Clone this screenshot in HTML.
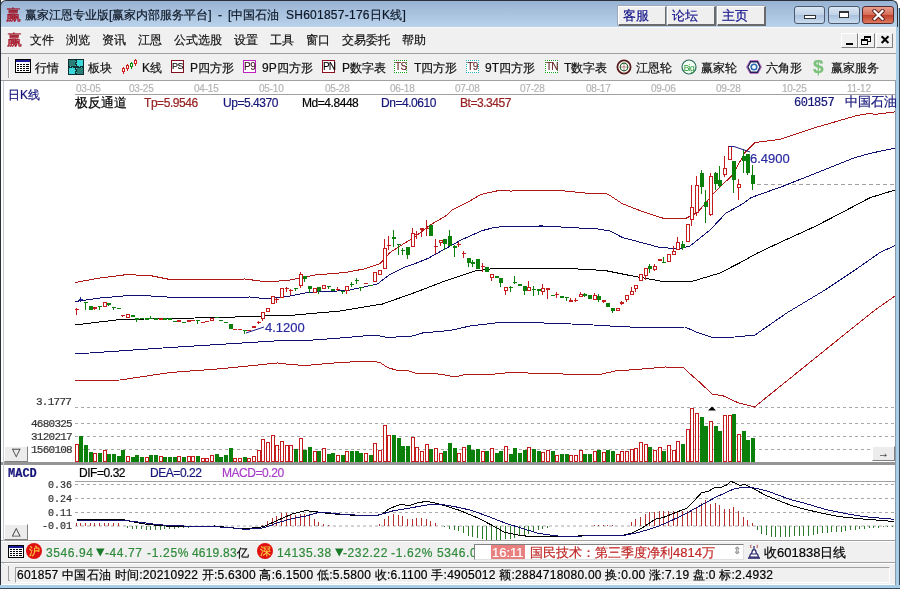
<!DOCTYPE html>
<html><head><meta charset="utf-8">
<style>
*{margin:0;padding:0;box-sizing:border-box}
html,body{width:900px;height:589px;overflow:hidden;background:#fff}
body{position:relative;will-change:transform;font-family:"Liberation Sans",sans-serif;font-size:12px;line-height:12px;color:#000}
.a{position:absolute;white-space:nowrap;-webkit-text-stroke:0.2px currentColor}
.m{font-family:"Liberation Mono",monospace}
#title{left:0;top:0;width:898px;height:27px;background:linear-gradient(#98b3d3,#bad2eb);border-top:1px solid #2b2f36;border-left:1px solid #2b2f36;border-right:1px solid #2b2f36;border-top-left-radius:6px;border-top-right-radius:6px}
#menu{left:1px;top:27px;width:895px;height:27px;background:#f0f0f0;border-top:1px solid #fafafa;border-bottom:1px solid #a0a0a0}
#tool{left:1px;top:54px;width:895px;height:27px;background:#f0f0f0;border-bottom:1px solid #a0a0a0}
.btn{height:20px;width:49px;top:6px;background:#efefef;border-top:1px solid #fff;border-left:1px solid #fff;border-right:2px solid #6a6a6a;border-bottom:2px solid #6a6a6a;box-shadow:-1px -1px 0 #9aa8b8;color:#14148a;font-size:13px;line-height:17px;padding-left:4px}
.cap{top:6px;height:18px;border:1px solid #4c5a6e;border-radius:3px;background:linear-gradient(#d9e6f3 0%,#c0d2e6 50%,#a9c0dc 51%,#c9dbef 100%)}
.mdi{top:33px;height:15px;width:17px;background:#f0f0f0;border-top:1px solid #fff;border-left:1px solid #fff;border-right:1px solid #808080;border-bottom:1px solid #808080}
.dt{font-size:10px;line-height:10px;color:#b4b4b4;top:84px;letter-spacing:-0.2px}
.ico{width:13px;height:13px;top:60px;font-size:10px;line-height:11px;text-align:center;font-family:"Liberation Sans",sans-serif;-webkit-text-stroke:0.1px currentColor}
</style></head><body>
<!-- window frame -->
<div class="a" style="left:0;top:0;width:1px;height:589px;background:#2b2f36"></div>
<div class="a" style="left:895px;top:8px;width:5px;height:581px;background:#a8cde6;border-left:1px solid #8a9aaa"></div>
<div class="a" style="left:899px;top:8px;width:1px;height:581px;background:#3a4a5a"></div>
<div class="a" style="left:0;top:585px;width:900px;height:4px;background:#a8cde6"></div>
<div class="a" style="left:0;top:588px;width:900px;height:1px;background:#3a4a5a"></div>

<div id="title" class="a"></div>
<div class="a" style="left:6px;top:8px;font-size:15px;line-height:15px;color:#c81830;font-family:'Liberation Serif',serif;-webkit-text-stroke:0.4px #901020">赢</div>
<div class="a" style="left:25px;top:9px;color:#0e1826">赢家江恩专业版[赢家内部服务平台]</div><div class="a" style="left:218px;top:9px;color:#0e1826">-</div><div class="a" style="left:228px;top:9px;color:#0e1826">[中国石油</div><div class="a" style="left:286px;top:9px;color:#0e1826;letter-spacing:0.25px">SH601857-176日K线]</div>
<div class="a btn" style="left:618px">客服</div>
<div class="a btn" style="left:667px">论坛</div>
<div class="a btn" style="left:717px">主页</div>
<div class="a cap" style="left:794px;width:31px"><div class="a" style="left:9px;top:8px;width:12px;height:4px;border:1px solid #333;background:#fff"></div></div>
<div class="a cap" style="left:828px;width:32px"><div class="a" style="left:10px;top:4px;width:10px;height:7px;border:1px solid #333;border-top-width:2px;background:#fff"></div></div>
<div class="a cap" style="left:862px;width:32px;border-color:#5a2a2a;background:linear-gradient(#e8a090 0%,#d46a55 50%,#c0402a 51%,#dc7a60 100%)"><svg class="a" style="left:9px;top:2px" width="13" height="12" viewBox="0 0 13 12"><path d="M2.5,2 L10.5,10 M10.5,2 L2.5,10" stroke="#5a2020" stroke-width="4" stroke-linecap="square"/><path d="M2.5,2 L10.5,10 M10.5,2 L2.5,10" stroke="#fff" stroke-width="2.2" stroke-linecap="square"/></svg></div>

<div id="menu" class="a"></div>
<div class="a" style="left:7px;top:33px;font-size:15px;line-height:15px;color:#c81830;font-family:'Liberation Serif',serif;-webkit-text-stroke:0.4px #901020">赢</div>
<div class="a" style="left:30px;top:34px;color:#111">文件</div>
<div class="a" style="left:66px;top:34px;color:#111">浏览</div>
<div class="a" style="left:102px;top:34px;color:#111">资讯</div>
<div class="a" style="left:138px;top:34px;color:#111">江恩</div>
<div class="a" style="left:174px;top:34px;color:#111">公式选股</div>
<div class="a" style="left:234px;top:34px;color:#111">设置</div>
<div class="a" style="left:270px;top:34px;color:#111">工具</div>
<div class="a" style="left:306px;top:34px;color:#111">窗口</div>
<div class="a" style="left:342px;top:34px;color:#111">交易委托</div>
<div class="a" style="left:402px;top:34px;color:#111">帮助</div>
<div class="a mdi" style="left:841px"><div class="a" style="left:4px;top:9px;width:7px;height:2px;background:#000"></div></div>
<div class="a mdi" style="left:858px"><div class="a" style="left:5px;top:2px;width:7px;height:6px;border:1px solid #000;border-top-width:2px"></div><div class="a" style="left:2px;top:5px;width:7px;height:6px;border:1px solid #000;border-top-width:2px;background:#f0f0f0"></div></div>
<div class="a mdi" style="left:876px"><div class="a" style="left:3px;top:0px;font-size:12px;line-height:13px;font-weight:bold">✕</div></div>

<div id="tool" class="a"></div>
<div class="a" style="left:8px;top:57px;width:2px;height:21px;border-left:1px solid #a0a0a0;border-right:1px solid #fff"></div>
<div class="a" style="left:35px;top:62px;color:#111">行情</div>
<div class="a" style="left:88px;top:62px;color:#111">板块</div>
<div class="a" style="left:142px;top:62px;color:#111">K线</div>
<div class="a" style="left:190px;top:62px;color:#111">P四方形</div>
<div class="a" style="left:262px;top:62px;color:#111">9P四方形</div>
<div class="a" style="left:342px;top:62px;color:#111">P数字表</div>
<div class="a" style="left:414px;top:62px;color:#111">T四方形</div>
<div class="a" style="left:485px;top:62px;color:#111">9T四方形</div>
<div class="a" style="left:564px;top:62px;color:#111">T数字表</div>
<div class="a" style="left:636px;top:62px;color:#111">江恩轮</div>
<div class="a" style="left:701px;top:62px;color:#111">赢家轮</div>
<div class="a" style="left:766px;top:62px;color:#111">六角形</div>
<div class="a" style="left:831px;top:62px;color:#111">赢家服务</div>

<!-- date axis -->
<div class="a" style="left:75px;top:94px;width:820px;height:1px;background:#a0a0a0"></div>
<div class="a" style="left:8px;top:89px;color:#14147a">日K线</div>

<svg class="a" style="left:0;top:0" width="900" height="589" viewBox="0 0 900 589">
<line x1="75" y1="407.5" x2="895" y2="407.5" stroke="#a8a8a8" stroke-dasharray="3,3"/>
<line x1="75" y1="423.5" x2="895" y2="423.5" stroke="#a8a8a8" stroke-dasharray="3,3"/>
<line x1="75" y1="436.5" x2="895" y2="436.5" stroke="#a8a8a8" stroke-dasharray="3,3"/>
<line x1="75" y1="449.5" x2="895" y2="449.5" stroke="#a8a8a8" stroke-dasharray="3,3"/>
<line x1="75" y1="484.5" x2="895" y2="484.5" stroke="#a8a8a8" stroke-dasharray="3,3"/>
<line x1="75" y1="498.5" x2="895" y2="498.5" stroke="#a8a8a8" stroke-dasharray="3,3"/>
<line x1="75" y1="512.5" x2="895" y2="512.5" stroke="#a8a8a8" stroke-dasharray="3,3"/>
<line x1="75" y1="526.0" x2="895" y2="526.0" stroke="#a8a8a8" stroke-dasharray="3,3"/>
<line x1="75" y1="481.5" x2="895" y2="481.5" stroke="#a0a0a0"/>
<line x1="757" y1="184.5" x2="895" y2="184.5" stroke="#a0a0a0" stroke-dasharray="4,3"/>
<g shape-rendering="crispEdges">
<polyline points="75.0,282.5 100.0,278.0 127.5,274.5 152.5,276.0 170.0,279.5 210.0,279.5 245.0,279.0 267.5,282.0 290.0,280.0 315.0,275.0 345.0,272.5 365.0,268.8 380.0,263.8 390.0,252.5 407.0,241.6 413.5,237.8 431.0,224.4 445.6,216.1 452.2,210.0 466.7,202.8 481.1,194.4 495.6,191.1 504.4,190.2 511.1,191.1 520.0,190.2 560.0,190.5 585.0,193.0 605.0,193.0 610.0,195.5 622.5,203.8 645.0,212.5 665.0,218.8 685.0,218.8 697.5,212.5 715.0,192.0 732.5,175.0 745.0,152.5 755.0,142.5 780.0,139.4 814.0,128.0 854.7,116.1 870.0,113.2 875.0,114.4 895.0,111.9" fill="none" stroke="#b01818" stroke-width="1"/>
<polyline points="75.0,301.5 100.0,298.0 135.0,295.0 182.5,298.0 250.0,297.0 267.5,299.0 290.0,296.0 307.5,292.5 347.5,290.5 377.5,284.0 389.0,275.0 405.0,267.0 412.0,264.8 428.0,258.4 444.0,249.5 461.1,240.0 482.2,230.6 495.6,227.2 515.6,226.1 542.5,226.0 597.5,229.0 610.0,231.0 622.5,237.5 660.0,247.5 680.0,248.8 690.0,246.0 710.0,230.0 725.8,213.3 744.0,203.0 750.7,197.8 757.8,195.1 775.6,188.9 780.0,187.4 814.0,173.9 854.7,157.7 871.7,153.0 895.0,148.2" fill="none" stroke="#101070" stroke-width="1"/>
<polyline points="75.0,325.0 120.0,319.5 220.0,317.5 295.0,315.0 340.0,311.0 382.5,304.0 415.0,292.5 445.0,281.0 475.0,271.0 490.0,269.0 515.0,268.0 560.0,268.0 605.0,270.5 627.5,275.0 660.0,281.0 690.0,282.0 720.0,273.0 740.0,262.7 757.8,252.9 784.4,240.4 814.7,226.6 839.6,213.8 869.8,197.8 895.0,190.0" fill="none" stroke="#000" stroke-width="1"/>
<polyline points="75.0,354.0 170.0,347.5 290.0,340.0 300.0,341.0 340.0,338.0 375.0,335.0 387.5,337.5 412.5,336.0 422.5,333.0 450.0,330.5 470.0,326.0 495.0,323.0 530.0,322.5 585.0,324.5 610.0,326.0 650.0,328.0 685.0,327.0 697.5,332.5 712.5,337.5 735.0,337.0 755.0,335.0 787.5,312.5 825.0,290.0 855.0,270.0 880.0,252.5 895.0,245.5" fill="none" stroke="#101070" stroke-width="1"/>
<polyline points="75.0,380.5 120.0,380.0 170.0,372.5 220.0,368.8 277.5,363.0 290.0,364.5 305.0,365.5 340.0,362.5 370.0,361.0 380.0,362.5 387.5,367.5 397.5,370.5 407.5,370.5 415.0,373.0 430.0,373.0 445.0,375.0 455.0,377.0 465.0,374.5 490.0,374.5 510.0,372.5 597.5,375.0 615.0,371.0 642.5,369.0 665.0,367.0 683.8,367.5 690.0,373.8 700.0,382.5 712.5,394.5 722.5,395.5 737.5,402.5 748.8,405.5 754.5,407.0 850.0,330.0 875.0,310.0 895.0,296.0" fill="none" stroke="#b01818" stroke-width="1"/>
</g>
<g shape-rendering="crispEdges">
<line x1="76.5" y1="308" x2="76.5" y2="315" stroke="#c41c1c"/>
<rect x="75" y="309" width="4" height="1" fill="#c41c1c"/>
<line x1="80.5" y1="297" x2="80.5" y2="302" stroke="#1e1e8a"/>
<rect x="79" y="299" width="4" height="1" fill="#1e1e8a"/>
<line x1="85.5" y1="302" x2="85.5" y2="310" stroke="#0a800a"/>
<rect x="84" y="302" width="4" height="1" fill="#0a800a"/>
<rect x="89" y="306" width="4" height="4" fill="#0a800a"/>
<line x1="94.5" y1="307" x2="94.5" y2="310" stroke="#c41c1c"/>
<rect x="93" y="307" width="4" height="2" fill="#c41c1c"/>
<line x1="99.5" y1="306" x2="99.5" y2="310" stroke="#0a800a"/>
<rect x="98" y="306" width="4" height="1" fill="#0a800a"/>
<rect x="103.5" y="302.5" width="3" height="4" fill="#fff" stroke="#c41c1c"/>
<line x1="108.5" y1="303" x2="108.5" y2="306" stroke="#0a800a"/>
<rect x="107" y="303" width="4" height="2" fill="#0a800a"/>
<line x1="113.5" y1="307" x2="113.5" y2="310" stroke="#0a800a"/>
<rect x="112" y="307" width="4" height="1" fill="#0a800a"/>
<rect x="117" y="308" width="4" height="1" fill="#0a800a"/>
<line x1="122.5" y1="315" x2="122.5" y2="317" stroke="#c41c1c"/>
<rect x="121" y="315" width="4" height="1" fill="#c41c1c"/>
<rect x="126.5" y="314.5" width="3" height="3" fill="#fff" stroke="#c41c1c"/>
<rect x="131" y="315" width="4" height="2" fill="#0a800a"/>
<line x1="136.5" y1="318" x2="136.5" y2="322" stroke="#0a800a"/>
<rect x="135" y="318" width="4" height="2" fill="#0a800a"/>
<rect x="140" y="318" width="4" height="1" fill="#0a800a"/>
<rect x="145" y="318" width="4" height="2" fill="#0a800a"/>
<line x1="150.5" y1="316" x2="150.5" y2="319" stroke="#0a800a"/>
<rect x="149" y="318" width="4" height="1" fill="#0a800a"/>
<rect x="154" y="318" width="4" height="2" fill="#0a800a"/>
<rect x="159" y="318" width="4" height="2" fill="#c41c1c"/>
<rect x="163" y="318" width="4" height="2" fill="#0a800a"/>
<rect x="168" y="318" width="4" height="2" fill="#0a800a"/>
<rect x="173" y="321" width="4" height="1" fill="#0a800a"/>
<rect x="177" y="320" width="4" height="2" fill="#c41c1c"/>
<rect x="182" y="322" width="4" height="1" fill="#0a800a"/>
<rect x="187" y="320" width="4" height="2" fill="#c41c1c"/>
<rect x="191" y="320" width="4" height="1" fill="#c41c1c"/>
<line x1="197.5" y1="320" x2="197.5" y2="324" stroke="#0a800a"/>
<rect x="196" y="320" width="4" height="1" fill="#0a800a"/>
<rect x="201" y="322" width="4" height="1" fill="#c41c1c"/>
<rect x="205" y="321" width="4" height="1" fill="#c41c1c"/>
<rect x="210.5" y="318.5" width="3" height="2" fill="#fff" stroke="#c41c1c"/>
<rect x="215" y="317" width="4" height="1" fill="#0a800a"/>
<rect x="219" y="320" width="4" height="1" fill="#0a800a"/>
<rect x="224" y="322" width="4" height="1" fill="#0a800a"/>
<rect x="229" y="324" width="4" height="5" fill="#0a800a"/>
<rect x="233" y="329" width="4" height="1" fill="#c41c1c"/>
<rect x="238" y="329" width="4" height="1" fill="#c41c1c"/>
<line x1="244.5" y1="330" x2="244.5" y2="334" stroke="#0a800a"/>
<rect x="243" y="330" width="4" height="1" fill="#0a800a"/>
<rect x="247" y="330" width="4" height="1" fill="#c41c1c"/>
<rect x="252" y="326" width="4" height="2" fill="#c41c1c"/>
<line x1="258.5" y1="321" x2="258.5" y2="324" stroke="#c41c1c"/>
<rect x="257" y="322" width="4" height="1" fill="#c41c1c"/>
<line x1="262.5" y1="312" x2="262.5" y2="321" stroke="#c41c1c"/>
<rect x="261.5" y="312.5" width="3" height="6" fill="#fff" stroke="#c41c1c"/>
<rect x="266.5" y="308.5" width="3" height="3" fill="#fff" stroke="#c41c1c"/>
<rect x="271.5" y="296.5" width="3" height="7" fill="#fff" stroke="#c41c1c"/>
<line x1="276.5" y1="298" x2="276.5" y2="303" stroke="#c41c1c"/>
<rect x="275" y="299" width="4" height="1" fill="#c41c1c"/>
<rect x="280.5" y="288.5" width="3" height="9" fill="#fff" stroke="#c41c1c"/>
<line x1="286.5" y1="287" x2="286.5" y2="292" stroke="#c41c1c"/>
<rect x="285" y="288" width="4" height="1" fill="#c41c1c"/>
<line x1="290.5" y1="289" x2="290.5" y2="295" stroke="#c41c1c"/>
<rect x="289" y="290" width="4" height="1" fill="#c41c1c"/>
<line x1="295.5" y1="288" x2="295.5" y2="291" stroke="#0a800a"/>
<rect x="294" y="288" width="4" height="1" fill="#0a800a"/>
<line x1="300.5" y1="272" x2="300.5" y2="288" stroke="#c41c1c"/>
<rect x="299.5" y="274.5" width="3" height="11" fill="#fff" stroke="#c41c1c"/>
<line x1="304.5" y1="276" x2="304.5" y2="282" stroke="#0a800a"/>
<rect x="303" y="276" width="4" height="3" fill="#0a800a"/>
<line x1="309.5" y1="286" x2="309.5" y2="293" stroke="#0a800a"/>
<rect x="308" y="286" width="4" height="3" fill="#0a800a"/>
<rect x="313.5" y="288.5" width="3" height="4" fill="#fff" stroke="#c41c1c"/>
<line x1="318.5" y1="287" x2="318.5" y2="294" stroke="#0a800a"/>
<rect x="317" y="287" width="4" height="4" fill="#0a800a"/>
<rect x="322.5" y="285.5" width="3" height="3" fill="#fff" stroke="#c41c1c"/>
<line x1="328.5" y1="286" x2="328.5" y2="289" stroke="#0a800a"/>
<rect x="327" y="286" width="4" height="1" fill="#0a800a"/>
<rect x="331" y="289" width="4" height="2" fill="#0a800a"/>
<line x1="337.5" y1="287" x2="337.5" y2="291" stroke="#c41c1c"/>
<rect x="336" y="289" width="4" height="1" fill="#c41c1c"/>
<line x1="342.5" y1="291" x2="342.5" y2="294" stroke="#0a800a"/>
<rect x="341" y="291" width="4" height="1" fill="#0a800a"/>
<line x1="346.5" y1="286" x2="346.5" y2="294" stroke="#c41c1c"/>
<rect x="345.5" y="286.5" width="3" height="4" fill="#fff" stroke="#c41c1c"/>
<line x1="351.5" y1="282" x2="351.5" y2="287" stroke="#0a800a"/>
<rect x="350" y="284" width="4" height="1" fill="#0a800a"/>
<line x1="356.5" y1="278" x2="356.5" y2="284" stroke="#0a800a"/>
<rect x="355" y="280" width="4" height="1" fill="#0a800a"/>
<line x1="360.5" y1="287" x2="360.5" y2="291" stroke="#0a800a"/>
<rect x="359" y="287" width="4" height="1" fill="#0a800a"/>
<rect x="364" y="283" width="4" height="1" fill="#c41c1c"/>
<rect x="369" y="285" width="4" height="1" fill="#0a800a"/>
<rect x="373.5" y="272.5" width="3" height="9" fill="#fff" stroke="#c41c1c"/>
<rect x="378.5" y="270.5" width="3" height="4" fill="#fff" stroke="#c41c1c"/>
<line x1="384.5" y1="239" x2="384.5" y2="269" stroke="#c41c1c"/>
<rect x="383.5" y="248.5" width="3" height="20" fill="#fff" stroke="#c41c1c"/>
<line x1="388.5" y1="236" x2="388.5" y2="250" stroke="#c41c1c"/>
<rect x="387" y="245" width="4" height="1" fill="#c41c1c"/>
<line x1="393.5" y1="230" x2="393.5" y2="247" stroke="#0a800a"/>
<rect x="392" y="237" width="4" height="2" fill="#0a800a"/>
<line x1="398.5" y1="244" x2="398.5" y2="255" stroke="#0a800a"/>
<rect x="397" y="244" width="4" height="1" fill="#0a800a"/>
<line x1="402.5" y1="248" x2="402.5" y2="255" stroke="#0a800a"/>
<rect x="401" y="250" width="4" height="1" fill="#0a800a"/>
<line x1="407.5" y1="247" x2="407.5" y2="259" stroke="#0a800a"/>
<rect x="406" y="247" width="4" height="8" fill="#0a800a"/>
<line x1="412.5" y1="228" x2="412.5" y2="247" stroke="#c41c1c"/>
<rect x="411.5" y="233.5" width="3" height="13" fill="#fff" stroke="#c41c1c"/>
<line x1="416.5" y1="231" x2="416.5" y2="239" stroke="#c41c1c"/>
<rect x="415" y="234" width="4" height="1" fill="#c41c1c"/>
<line x1="421.5" y1="229" x2="421.5" y2="237" stroke="#c41c1c"/>
<rect x="420" y="228" width="4" height="2" fill="#c41c1c"/>
<line x1="426.5" y1="220" x2="426.5" y2="236" stroke="#c41c1c"/>
<rect x="425" y="228" width="4" height="1" fill="#c41c1c"/>
<rect x="429" y="225" width="4" height="11" fill="#0a800a"/>
<line x1="435.5" y1="239" x2="435.5" y2="254" stroke="#c41c1c"/>
<rect x="434" y="246" width="4" height="1" fill="#c41c1c"/>
<line x1="440.5" y1="240" x2="440.5" y2="246" stroke="#c41c1c"/>
<rect x="439.5" y="240.5" width="3" height="2" fill="#fff" stroke="#c41c1c"/>
<line x1="444.5" y1="239" x2="444.5" y2="250" stroke="#0a800a"/>
<rect x="443" y="239" width="4" height="5" fill="#0a800a"/>
<line x1="449.5" y1="230" x2="449.5" y2="246" stroke="#0a800a"/>
<rect x="448" y="236" width="4" height="10" fill="#0a800a"/>
<line x1="454.5" y1="245" x2="454.5" y2="257" stroke="#0a800a"/>
<rect x="453" y="246" width="4" height="2" fill="#0a800a"/>
<line x1="458.5" y1="242" x2="458.5" y2="247" stroke="#c41c1c"/>
<rect x="457" y="244" width="4" height="1" fill="#c41c1c"/>
<line x1="463.5" y1="251" x2="463.5" y2="258" stroke="#c41c1c"/>
<rect x="462" y="253" width="4" height="1" fill="#c41c1c"/>
<line x1="468.5" y1="258" x2="468.5" y2="267" stroke="#0a800a"/>
<rect x="467" y="258" width="4" height="5" fill="#0a800a"/>
<line x1="472.5" y1="260" x2="472.5" y2="267" stroke="#0a800a"/>
<rect x="471" y="262" width="4" height="2" fill="#0a800a"/>
<rect x="476" y="259" width="4" height="10" fill="#0a800a"/>
<line x1="482.5" y1="263" x2="482.5" y2="272" stroke="#c41c1c"/>
<rect x="481" y="266" width="4" height="1" fill="#c41c1c"/>
<rect x="485" y="267" width="4" height="5" fill="#0a800a"/>
<line x1="491.5" y1="274" x2="491.5" y2="281" stroke="#c41c1c"/>
<rect x="490.5" y="274.5" width="3" height="3" fill="#fff" stroke="#c41c1c"/>
<rect x="495" y="276" width="4" height="2" fill="#0a800a"/>
<line x1="500.5" y1="278" x2="500.5" y2="287" stroke="#0a800a"/>
<rect x="499" y="278" width="4" height="5" fill="#0a800a"/>
<line x1="505.5" y1="287" x2="505.5" y2="295" stroke="#c41c1c"/>
<rect x="504.5" y="287.5" width="3" height="3" fill="#fff" stroke="#c41c1c"/>
<line x1="510.5" y1="286" x2="510.5" y2="292" stroke="#0a800a"/>
<rect x="509" y="287" width="4" height="1" fill="#0a800a"/>
<line x1="514.5" y1="276" x2="514.5" y2="284" stroke="#0a800a"/>
<rect x="513" y="282" width="4" height="1" fill="#0a800a"/>
<rect x="518" y="284" width="4" height="2" fill="#0a800a"/>
<line x1="524.5" y1="286" x2="524.5" y2="295" stroke="#0a800a"/>
<rect x="523" y="286" width="4" height="5" fill="#0a800a"/>
<line x1="528.5" y1="281" x2="528.5" y2="291" stroke="#c41c1c"/>
<rect x="527.5" y="287.5" width="3" height="3" fill="#fff" stroke="#c41c1c"/>
<line x1="533.5" y1="286" x2="533.5" y2="296" stroke="#0a800a"/>
<rect x="532" y="289" width="4" height="1" fill="#0a800a"/>
<line x1="538.5" y1="289" x2="538.5" y2="295" stroke="#0a800a"/>
<rect x="537" y="289" width="4" height="2" fill="#0a800a"/>
<line x1="542.5" y1="284" x2="542.5" y2="295" stroke="#c41c1c"/>
<rect x="541.5" y="288.5" width="3" height="3" fill="#fff" stroke="#c41c1c"/>
<line x1="547.5" y1="288" x2="547.5" y2="299" stroke="#c41c1c"/>
<rect x="546" y="288" width="4" height="2" fill="#c41c1c"/>
<rect x="551" y="295" width="4" height="1" fill="#0a800a"/>
<line x1="556.5" y1="292" x2="556.5" y2="298" stroke="#c41c1c"/>
<rect x="555" y="294" width="4" height="1" fill="#c41c1c"/>
<rect x="560" y="296" width="4" height="2" fill="#0a800a"/>
<line x1="566.5" y1="297" x2="566.5" y2="301" stroke="#0a800a"/>
<rect x="565" y="297" width="4" height="1" fill="#0a800a"/>
<line x1="570.5" y1="298" x2="570.5" y2="302" stroke="#c41c1c"/>
<rect x="569" y="300" width="4" height="2" fill="#c41c1c"/>
<line x1="575.5" y1="298" x2="575.5" y2="302" stroke="#c41c1c"/>
<rect x="574" y="300" width="4" height="1" fill="#c41c1c"/>
<line x1="580.5" y1="292" x2="580.5" y2="297" stroke="#c41c1c"/>
<rect x="579.5" y="294.5" width="3" height="2" fill="#fff" stroke="#c41c1c"/>
<line x1="584.5" y1="293" x2="584.5" y2="297" stroke="#0a800a"/>
<rect x="583" y="294" width="4" height="2" fill="#0a800a"/>
<rect x="588" y="295" width="4" height="4" fill="#0a800a"/>
<line x1="594.5" y1="293" x2="594.5" y2="300" stroke="#c41c1c"/>
<rect x="593.5" y="295.5" width="3" height="4" fill="#fff" stroke="#c41c1c"/>
<line x1="598.5" y1="294" x2="598.5" y2="302" stroke="#0a800a"/>
<rect x="597" y="296" width="4" height="4" fill="#0a800a"/>
<line x1="603.5" y1="300" x2="603.5" y2="303" stroke="#c41c1c"/>
<rect x="602" y="300" width="4" height="2" fill="#c41c1c"/>
<rect x="606" y="303" width="4" height="4" fill="#0a800a"/>
<line x1="612.5" y1="308" x2="612.5" y2="313" stroke="#0a800a"/>
<rect x="611" y="308" width="4" height="3" fill="#0a800a"/>
<rect x="616.5" y="308.5" width="3" height="2" fill="#fff" stroke="#c41c1c"/>
<line x1="621.5" y1="301" x2="621.5" y2="305" stroke="#c41c1c"/>
<rect x="620" y="302" width="4" height="2" fill="#c41c1c"/>
<line x1="626.5" y1="295" x2="626.5" y2="302" stroke="#c41c1c"/>
<rect x="625.5" y="295.5" width="3" height="4" fill="#fff" stroke="#c41c1c"/>
<line x1="631.5" y1="287" x2="631.5" y2="295" stroke="#c41c1c"/>
<rect x="630.5" y="291.5" width="3" height="3" fill="#fff" stroke="#c41c1c"/>
<line x1="635.5" y1="285" x2="635.5" y2="292" stroke="#c41c1c"/>
<rect x="634.5" y="285.5" width="3" height="3" fill="#fff" stroke="#c41c1c"/>
<rect x="639.5" y="274.5" width="3" height="6" fill="#fff" stroke="#c41c1c"/>
<line x1="645.5" y1="268" x2="645.5" y2="280" stroke="#c41c1c"/>
<rect x="644.5" y="268.5" width="3" height="7" fill="#fff" stroke="#c41c1c"/>
<line x1="649.5" y1="264" x2="649.5" y2="273" stroke="#0a800a"/>
<rect x="648" y="266" width="4" height="3" fill="#0a800a"/>
<line x1="654.5" y1="264" x2="654.5" y2="271" stroke="#c41c1c"/>
<rect x="653.5" y="266.5" width="3" height="3" fill="#fff" stroke="#c41c1c"/>
<rect x="658.5" y="259.5" width="3" height="1" fill="#fff" stroke="#c41c1c"/>
<line x1="663.5" y1="257" x2="663.5" y2="263" stroke="#0a800a"/>
<rect x="662" y="262" width="4" height="1" fill="#0a800a"/>
<rect x="667.5" y="254.5" width="3" height="7" fill="#fff" stroke="#c41c1c"/>
<line x1="673.5" y1="246" x2="673.5" y2="255" stroke="#c41c1c"/>
<rect x="672.5" y="251.5" width="3" height="3" fill="#fff" stroke="#c41c1c"/>
<line x1="677.5" y1="237" x2="677.5" y2="250" stroke="#c41c1c"/>
<rect x="676.5" y="242.5" width="3" height="7" fill="#fff" stroke="#c41c1c"/>
<line x1="682.5" y1="241" x2="682.5" y2="250" stroke="#0a800a"/>
<rect x="681" y="244" width="4" height="4" fill="#0a800a"/>
<rect x="686.5" y="224.5" width="3" height="17" fill="#fff" stroke="#c41c1c"/>
<line x1="691.5" y1="185" x2="691.5" y2="226" stroke="#c41c1c"/>
<rect x="690.5" y="207.5" width="3" height="12" fill="#fff" stroke="#c41c1c"/>
<line x1="696.5" y1="176" x2="696.5" y2="216" stroke="#c41c1c"/>
<rect x="695.5" y="185.5" width="3" height="27" fill="#fff" stroke="#c41c1c"/>
<line x1="701.5" y1="170" x2="701.5" y2="194" stroke="#0a800a"/>
<rect x="700" y="173" width="4" height="14" fill="#0a800a"/>
<line x1="705.5" y1="190" x2="705.5" y2="223" stroke="#0a800a"/>
<rect x="704" y="202" width="4" height="5" fill="#0a800a"/>
<line x1="710.5" y1="173" x2="710.5" y2="216" stroke="#c41c1c"/>
<rect x="709.5" y="176.5" width="3" height="38" fill="#fff" stroke="#c41c1c"/>
<line x1="715.5" y1="172" x2="715.5" y2="190" stroke="#0a800a"/>
<rect x="714" y="173" width="4" height="11" fill="#0a800a"/>
<line x1="719.5" y1="166" x2="719.5" y2="188" stroke="#0a800a"/>
<rect x="718" y="180" width="4" height="6" fill="#0a800a"/>
<line x1="724.5" y1="156" x2="724.5" y2="177" stroke="#c41c1c"/>
<rect x="723.5" y="168.5" width="3" height="6" fill="#fff" stroke="#c41c1c"/>
<rect x="728.5" y="146.5" width="3" height="13" fill="#fff" stroke="#c41c1c"/>
<line x1="733.5" y1="161" x2="733.5" y2="193" stroke="#0a800a"/>
<rect x="732" y="161" width="4" height="19" fill="#0a800a"/>
<line x1="738.5" y1="179" x2="738.5" y2="200" stroke="#c41c1c"/>
<rect x="737.5" y="184.5" width="3" height="3" fill="#fff" stroke="#c41c1c"/>
<line x1="743.5" y1="149" x2="743.5" y2="173" stroke="#0a800a"/>
<rect x="742" y="156" width="4" height="5" fill="#0a800a"/>
<line x1="747.5" y1="154" x2="747.5" y2="175" stroke="#0a800a"/>
<rect x="746" y="154" width="4" height="19" fill="#0a800a"/>
<line x1="752.5" y1="165" x2="752.5" y2="190" stroke="#0a800a"/>
<rect x="751" y="175" width="4" height="9" fill="#0a800a"/>
<rect x="75.5" y="444.5" width="3" height="17" fill="#fff" stroke="#c41c1c"/>
<rect x="79" y="436" width="4" height="26" fill="#0a800a"/>
<rect x="84" y="445" width="4" height="17" fill="#0a800a"/>
<rect x="89" y="452" width="4" height="10" fill="#0a800a"/>
<rect x="93.5" y="453.5" width="3" height="8" fill="#fff" stroke="#c41c1c"/>
<rect x="98" y="453" width="4" height="9" fill="#0a800a"/>
<rect x="103.5" y="450.5" width="3" height="11" fill="#fff" stroke="#c41c1c"/>
<rect x="107" y="454" width="4" height="8" fill="#0a800a"/>
<rect x="112" y="454" width="4" height="8" fill="#0a800a"/>
<rect x="117" y="456" width="4" height="6" fill="#0a800a"/>
<rect x="121" y="450" width="4" height="12" fill="#0a800a"/>
<rect x="126.5" y="456.5" width="3" height="5" fill="#fff" stroke="#c41c1c"/>
<rect x="131" y="457" width="4" height="5" fill="#0a800a"/>
<rect x="135" y="455" width="4" height="7" fill="#0a800a"/>
<rect x="140" y="457" width="4" height="5" fill="#0a800a"/>
<rect x="145.5" y="457.5" width="3" height="4" fill="#fff" stroke="#c41c1c"/>
<rect x="149" y="455" width="4" height="7" fill="#0a800a"/>
<rect x="154" y="455" width="4" height="7" fill="#0a800a"/>
<rect x="159.5" y="456.5" width="3" height="5" fill="#fff" stroke="#c41c1c"/>
<rect x="163" y="457" width="4" height="5" fill="#0a800a"/>
<rect x="168" y="457" width="4" height="5" fill="#0a800a"/>
<rect x="173" y="457" width="4" height="5" fill="#0a800a"/>
<rect x="177.5" y="456.5" width="3" height="5" fill="#fff" stroke="#c41c1c"/>
<rect x="182" y="457" width="4" height="5" fill="#0a800a"/>
<rect x="187.5" y="456.5" width="3" height="5" fill="#fff" stroke="#c41c1c"/>
<rect x="191.5" y="456.5" width="3" height="5" fill="#fff" stroke="#c41c1c"/>
<rect x="196" y="456" width="4" height="6" fill="#0a800a"/>
<rect x="201.5" y="458.5" width="3" height="3" fill="#fff" stroke="#c41c1c"/>
<rect x="205.5" y="458.5" width="3" height="3" fill="#fff" stroke="#c41c1c"/>
<rect x="210.5" y="455.5" width="3" height="6" fill="#fff" stroke="#c41c1c"/>
<rect x="215" y="454" width="4" height="8" fill="#0a800a"/>
<rect x="219" y="457" width="4" height="5" fill="#0a800a"/>
<rect x="224" y="455" width="4" height="7" fill="#0a800a"/>
<rect x="229" y="448" width="4" height="14" fill="#0a800a"/>
<rect x="233.5" y="458.5" width="3" height="3" fill="#fff" stroke="#c41c1c"/>
<rect x="238.5" y="458.5" width="3" height="3" fill="#fff" stroke="#c41c1c"/>
<rect x="243" y="457" width="4" height="5" fill="#0a800a"/>
<rect x="247.5" y="458.5" width="3" height="3" fill="#fff" stroke="#c41c1c"/>
<rect x="252.5" y="456.5" width="3" height="5" fill="#fff" stroke="#c41c1c"/>
<rect x="257.5" y="450.5" width="3" height="11" fill="#fff" stroke="#c41c1c"/>
<rect x="261.5" y="439.5" width="3" height="22" fill="#fff" stroke="#c41c1c"/>
<rect x="266.5" y="442.5" width="3" height="19" fill="#fff" stroke="#c41c1c"/>
<rect x="271.5" y="435.5" width="3" height="26" fill="#fff" stroke="#c41c1c"/>
<rect x="275.5" y="445.5" width="3" height="16" fill="#fff" stroke="#c41c1c"/>
<rect x="280.5" y="441.5" width="3" height="20" fill="#fff" stroke="#c41c1c"/>
<rect x="285.5" y="445.5" width="3" height="16" fill="#fff" stroke="#c41c1c"/>
<rect x="289.5" y="445.5" width="3" height="16" fill="#fff" stroke="#c41c1c"/>
<rect x="294" y="449" width="4" height="13" fill="#0a800a"/>
<rect x="299.5" y="438.5" width="3" height="23" fill="#fff" stroke="#c41c1c"/>
<rect x="303" y="450" width="4" height="12" fill="#0a800a"/>
<rect x="308" y="447" width="4" height="15" fill="#0a800a"/>
<rect x="313.5" y="451.5" width="3" height="10" fill="#fff" stroke="#c41c1c"/>
<rect x="317" y="451" width="4" height="11" fill="#0a800a"/>
<rect x="322.5" y="448.5" width="3" height="13" fill="#fff" stroke="#c41c1c"/>
<rect x="327" y="454" width="4" height="8" fill="#0a800a"/>
<rect x="331" y="453" width="4" height="9" fill="#0a800a"/>
<rect x="336.5" y="455.5" width="3" height="6" fill="#fff" stroke="#c41c1c"/>
<rect x="341" y="455" width="4" height="7" fill="#0a800a"/>
<rect x="345.5" y="451.5" width="3" height="10" fill="#fff" stroke="#c41c1c"/>
<rect x="350" y="451" width="4" height="11" fill="#0a800a"/>
<rect x="355" y="451" width="4" height="11" fill="#0a800a"/>
<rect x="359" y="453" width="4" height="9" fill="#0a800a"/>
<rect x="364.5" y="453.5" width="3" height="8" fill="#fff" stroke="#c41c1c"/>
<rect x="369" y="455" width="4" height="7" fill="#0a800a"/>
<rect x="373.5" y="443.5" width="3" height="18" fill="#fff" stroke="#c41c1c"/>
<rect x="378.5" y="450.5" width="3" height="11" fill="#fff" stroke="#c41c1c"/>
<rect x="383.5" y="425.5" width="3" height="36" fill="#fff" stroke="#c41c1c"/>
<rect x="387.5" y="435.5" width="3" height="26" fill="#fff" stroke="#c41c1c"/>
<rect x="392" y="435" width="4" height="27" fill="#0a800a"/>
<rect x="397" y="438" width="4" height="24" fill="#0a800a"/>
<rect x="401" y="446" width="4" height="16" fill="#0a800a"/>
<rect x="406" y="446" width="4" height="16" fill="#0a800a"/>
<rect x="411.5" y="437.5" width="3" height="24" fill="#fff" stroke="#c41c1c"/>
<rect x="415.5" y="447.5" width="3" height="14" fill="#fff" stroke="#c41c1c"/>
<rect x="420.5" y="451.5" width="3" height="10" fill="#fff" stroke="#c41c1c"/>
<rect x="425.5" y="444.5" width="3" height="17" fill="#fff" stroke="#c41c1c"/>
<rect x="429" y="449" width="4" height="13" fill="#0a800a"/>
<rect x="434.5" y="448.5" width="3" height="13" fill="#fff" stroke="#c41c1c"/>
<rect x="439.5" y="453.5" width="3" height="8" fill="#fff" stroke="#c41c1c"/>
<rect x="443" y="451" width="4" height="11" fill="#0a800a"/>
<rect x="448" y="443" width="4" height="19" fill="#0a800a"/>
<rect x="453" y="448" width="4" height="14" fill="#0a800a"/>
<rect x="457.5" y="453.5" width="3" height="8" fill="#fff" stroke="#c41c1c"/>
<rect x="462.5" y="447.5" width="3" height="14" fill="#fff" stroke="#c41c1c"/>
<rect x="467" y="445" width="4" height="17" fill="#0a800a"/>
<rect x="471" y="450" width="4" height="12" fill="#0a800a"/>
<rect x="476" y="449" width="4" height="13" fill="#0a800a"/>
<rect x="481.5" y="451.5" width="3" height="10" fill="#fff" stroke="#c41c1c"/>
<rect x="485" y="451" width="4" height="11" fill="#0a800a"/>
<rect x="490.5" y="448.5" width="3" height="13" fill="#fff" stroke="#c41c1c"/>
<rect x="495" y="453" width="4" height="9" fill="#0a800a"/>
<rect x="499" y="451" width="4" height="11" fill="#0a800a"/>
<rect x="504.5" y="446.5" width="3" height="15" fill="#fff" stroke="#c41c1c"/>
<rect x="509" y="454" width="4" height="8" fill="#0a800a"/>
<rect x="513" y="448" width="4" height="14" fill="#0a800a"/>
<rect x="518" y="453" width="4" height="9" fill="#0a800a"/>
<rect x="523" y="450" width="4" height="12" fill="#0a800a"/>
<rect x="527.5" y="447.5" width="3" height="14" fill="#fff" stroke="#c41c1c"/>
<rect x="532" y="449" width="4" height="13" fill="#0a800a"/>
<rect x="537" y="451" width="4" height="11" fill="#0a800a"/>
<rect x="541.5" y="452.5" width="3" height="9" fill="#fff" stroke="#c41c1c"/>
<rect x="546.5" y="450.5" width="3" height="11" fill="#fff" stroke="#c41c1c"/>
<rect x="551" y="451" width="4" height="11" fill="#0a800a"/>
<rect x="555.5" y="455.5" width="3" height="6" fill="#fff" stroke="#c41c1c"/>
<rect x="560" y="454" width="4" height="8" fill="#0a800a"/>
<rect x="565" y="454" width="4" height="8" fill="#0a800a"/>
<rect x="569.5" y="455.5" width="3" height="6" fill="#fff" stroke="#c41c1c"/>
<rect x="574.5" y="455.5" width="3" height="6" fill="#fff" stroke="#c41c1c"/>
<rect x="579.5" y="450.5" width="3" height="11" fill="#fff" stroke="#c41c1c"/>
<rect x="583" y="454" width="4" height="8" fill="#0a800a"/>
<rect x="588" y="454" width="4" height="8" fill="#0a800a"/>
<rect x="593.5" y="451.5" width="3" height="10" fill="#fff" stroke="#c41c1c"/>
<rect x="597" y="450" width="4" height="12" fill="#0a800a"/>
<rect x="602.5" y="452.5" width="3" height="9" fill="#fff" stroke="#c41c1c"/>
<rect x="606" y="450" width="4" height="12" fill="#0a800a"/>
<rect x="611" y="451" width="4" height="11" fill="#0a800a"/>
<rect x="616.5" y="454.5" width="3" height="7" fill="#fff" stroke="#c41c1c"/>
<rect x="620.5" y="451.5" width="3" height="10" fill="#fff" stroke="#c41c1c"/>
<rect x="625.5" y="451.5" width="3" height="10" fill="#fff" stroke="#c41c1c"/>
<rect x="630.5" y="449.5" width="3" height="12" fill="#fff" stroke="#c41c1c"/>
<rect x="634.5" y="448.5" width="3" height="13" fill="#fff" stroke="#c41c1c"/>
<rect x="639.5" y="442.5" width="3" height="19" fill="#fff" stroke="#c41c1c"/>
<rect x="644.5" y="444.5" width="3" height="17" fill="#fff" stroke="#c41c1c"/>
<rect x="648" y="447" width="4" height="15" fill="#0a800a"/>
<rect x="653.5" y="450.5" width="3" height="11" fill="#fff" stroke="#c41c1c"/>
<rect x="658.5" y="447.5" width="3" height="14" fill="#fff" stroke="#c41c1c"/>
<rect x="662" y="451" width="4" height="11" fill="#0a800a"/>
<rect x="667.5" y="445.5" width="3" height="16" fill="#fff" stroke="#c41c1c"/>
<rect x="672.5" y="450.5" width="3" height="11" fill="#fff" stroke="#c41c1c"/>
<rect x="676.5" y="441.5" width="3" height="20" fill="#fff" stroke="#c41c1c"/>
<rect x="681" y="444" width="4" height="18" fill="#0a800a"/>
<rect x="686.5" y="429.5" width="3" height="32" fill="#fff" stroke="#c41c1c"/>
<rect x="690.5" y="408.5" width="3" height="53" fill="#fff" stroke="#c41c1c"/>
<rect x="695.5" y="413.5" width="3" height="48" fill="#fff" stroke="#c41c1c"/>
<rect x="700" y="417" width="4" height="45" fill="#0a800a"/>
<rect x="704" y="426" width="4" height="36" fill="#0a800a"/>
<rect x="709.5" y="421.5" width="3" height="40" fill="#fff" stroke="#c41c1c"/>
<rect x="714" y="426" width="4" height="36" fill="#0a800a"/>
<rect x="718" y="431" width="4" height="31" fill="#0a800a"/>
<rect x="723.5" y="415.5" width="3" height="46" fill="#fff" stroke="#c41c1c"/>
<rect x="728.5" y="415.5" width="3" height="46" fill="#fff" stroke="#c41c1c"/>
<rect x="732" y="414" width="4" height="48" fill="#0a800a"/>
<rect x="737.5" y="434.5" width="3" height="27" fill="#fff" stroke="#c41c1c"/>
<rect x="742" y="431" width="4" height="31" fill="#0a800a"/>
<rect x="746" y="440" width="4" height="22" fill="#0a800a"/>
<rect x="751" y="438" width="4" height="24" fill="#0a800a"/>
<line x1="76.5" y1="526" x2="76.5" y2="523" stroke="#b83030"/>
<line x1="80.5" y1="526" x2="80.5" y2="523" stroke="#b83030"/>
<line x1="85.5" y1="526" x2="85.5" y2="523" stroke="#b83030"/>
<line x1="90.5" y1="526" x2="90.5" y2="523" stroke="#b83030"/>
<line x1="94.5" y1="526" x2="94.5" y2="523" stroke="#b83030"/>
<line x1="99.5" y1="526" x2="99.5" y2="523" stroke="#b83030"/>
<line x1="104.5" y1="526" x2="104.5" y2="523" stroke="#b83030"/>
<line x1="108.5" y1="526" x2="108.5" y2="523" stroke="#b83030"/>
<line x1="113.5" y1="526" x2="113.5" y2="523" stroke="#b83030"/>
<line x1="118.5" y1="526" x2="118.5" y2="523" stroke="#b83030"/>
<line x1="127.5" y1="526" x2="127.5" y2="528" stroke="#2a7a2a"/>
<line x1="132.5" y1="526" x2="132.5" y2="529" stroke="#2a7a2a"/>
<line x1="136.5" y1="526" x2="136.5" y2="529" stroke="#2a7a2a"/>
<line x1="141.5" y1="526" x2="141.5" y2="529" stroke="#2a7a2a"/>
<line x1="146.5" y1="526" x2="146.5" y2="530" stroke="#2a7a2a"/>
<line x1="150.5" y1="526" x2="150.5" y2="530" stroke="#2a7a2a"/>
<line x1="155.5" y1="526" x2="155.5" y2="530" stroke="#2a7a2a"/>
<line x1="160.5" y1="526" x2="160.5" y2="530" stroke="#2a7a2a"/>
<line x1="164.5" y1="526" x2="164.5" y2="529" stroke="#2a7a2a"/>
<line x1="169.5" y1="526" x2="169.5" y2="529" stroke="#2a7a2a"/>
<line x1="174.5" y1="526" x2="174.5" y2="529" stroke="#2a7a2a"/>
<line x1="178.5" y1="526" x2="178.5" y2="528" stroke="#2a7a2a"/>
<line x1="183.5" y1="526" x2="183.5" y2="528" stroke="#2a7a2a"/>
<line x1="188.5" y1="526" x2="188.5" y2="528" stroke="#2a7a2a"/>
<line x1="192.5" y1="526" x2="192.5" y2="527" stroke="#2a7a2a"/>
<line x1="262.5" y1="526" x2="262.5" y2="525" stroke="#b83030"/>
<line x1="267.5" y1="526" x2="267.5" y2="521" stroke="#b83030"/>
<line x1="272.5" y1="526" x2="272.5" y2="518" stroke="#b83030"/>
<line x1="276.5" y1="526" x2="276.5" y2="516" stroke="#b83030"/>
<line x1="281.5" y1="526" x2="281.5" y2="513" stroke="#b83030"/>
<line x1="286.5" y1="526" x2="286.5" y2="513" stroke="#b83030"/>
<line x1="290.5" y1="526" x2="290.5" y2="514" stroke="#b83030"/>
<line x1="295.5" y1="526" x2="295.5" y2="515" stroke="#b83030"/>
<line x1="300.5" y1="526" x2="300.5" y2="514" stroke="#b83030"/>
<line x1="304.5" y1="526" x2="304.5" y2="514" stroke="#b83030"/>
<line x1="309.5" y1="526" x2="309.5" y2="516" stroke="#b83030"/>
<line x1="314.5" y1="526" x2="314.5" y2="519" stroke="#b83030"/>
<line x1="318.5" y1="526" x2="318.5" y2="522" stroke="#b83030"/>
<line x1="323.5" y1="526" x2="323.5" y2="524" stroke="#b83030"/>
<line x1="328.5" y1="526" x2="328.5" y2="525" stroke="#b83030"/>
<line x1="379.5" y1="526" x2="379.5" y2="524" stroke="#b83030"/>
<line x1="384.5" y1="526" x2="384.5" y2="519" stroke="#b83030"/>
<line x1="388.5" y1="526" x2="388.5" y2="516" stroke="#b83030"/>
<line x1="393.5" y1="526" x2="393.5" y2="514" stroke="#b83030"/>
<line x1="398.5" y1="526" x2="398.5" y2="515" stroke="#b83030"/>
<line x1="402.5" y1="526" x2="402.5" y2="516" stroke="#b83030"/>
<line x1="407.5" y1="526" x2="407.5" y2="519" stroke="#b83030"/>
<line x1="412.5" y1="526" x2="412.5" y2="519" stroke="#b83030"/>
<line x1="416.5" y1="526" x2="416.5" y2="518" stroke="#b83030"/>
<line x1="421.5" y1="526" x2="421.5" y2="518" stroke="#b83030"/>
<line x1="426.5" y1="526" x2="426.5" y2="519" stroke="#b83030"/>
<line x1="430.5" y1="526" x2="430.5" y2="521" stroke="#b83030"/>
<line x1="435.5" y1="526" x2="435.5" y2="523" stroke="#b83030"/>
<line x1="444.5" y1="526" x2="444.5" y2="527" stroke="#2a7a2a"/>
<line x1="449.5" y1="526" x2="449.5" y2="529" stroke="#2a7a2a"/>
<line x1="454.5" y1="526" x2="454.5" y2="530" stroke="#2a7a2a"/>
<line x1="458.5" y1="526" x2="458.5" y2="531" stroke="#2a7a2a"/>
<line x1="463.5" y1="526" x2="463.5" y2="533" stroke="#2a7a2a"/>
<line x1="468.5" y1="526" x2="468.5" y2="536" stroke="#2a7a2a"/>
<line x1="472.5" y1="526" x2="472.5" y2="537" stroke="#2a7a2a"/>
<line x1="477.5" y1="526" x2="477.5" y2="538" stroke="#2a7a2a"/>
<line x1="482.5" y1="526" x2="482.5" y2="539" stroke="#2a7a2a"/>
<line x1="486.5" y1="526" x2="486.5" y2="540" stroke="#2a7a2a"/>
<line x1="491.5" y1="526" x2="491.5" y2="540" stroke="#2a7a2a"/>
<line x1="496.5" y1="526" x2="496.5" y2="540" stroke="#2a7a2a"/>
<line x1="500.5" y1="526" x2="500.5" y2="540" stroke="#2a7a2a"/>
<line x1="505.5" y1="526" x2="505.5" y2="539" stroke="#2a7a2a"/>
<line x1="510.5" y1="526" x2="510.5" y2="539" stroke="#2a7a2a"/>
<line x1="514.5" y1="526" x2="514.5" y2="538" stroke="#2a7a2a"/>
<line x1="519.5" y1="526" x2="519.5" y2="536" stroke="#2a7a2a"/>
<line x1="524.5" y1="526" x2="524.5" y2="536" stroke="#2a7a2a"/>
<line x1="528.5" y1="526" x2="528.5" y2="534" stroke="#2a7a2a"/>
<line x1="533.5" y1="526" x2="533.5" y2="532" stroke="#2a7a2a"/>
<line x1="538.5" y1="526" x2="538.5" y2="530" stroke="#2a7a2a"/>
<line x1="542.5" y1="526" x2="542.5" y2="529" stroke="#2a7a2a"/>
<line x1="547.5" y1="526" x2="547.5" y2="528" stroke="#2a7a2a"/>
<line x1="594.5" y1="526" x2="594.5" y2="525" stroke="#b83030"/>
<line x1="598.5" y1="526" x2="598.5" y2="525" stroke="#b83030"/>
<line x1="603.5" y1="526" x2="603.5" y2="525" stroke="#b83030"/>
<line x1="607.5" y1="526" x2="607.5" y2="525" stroke="#b83030"/>
<line x1="612.5" y1="526" x2="612.5" y2="525" stroke="#b83030"/>
<line x1="631.5" y1="526" x2="631.5" y2="522" stroke="#b83030"/>
<line x1="635.5" y1="526" x2="635.5" y2="519" stroke="#b83030"/>
<line x1="640.5" y1="526" x2="640.5" y2="517" stroke="#b83030"/>
<line x1="645.5" y1="526" x2="645.5" y2="514" stroke="#b83030"/>
<line x1="649.5" y1="526" x2="649.5" y2="512" stroke="#b83030"/>
<line x1="654.5" y1="526" x2="654.5" y2="512" stroke="#b83030"/>
<line x1="659.5" y1="526" x2="659.5" y2="511" stroke="#b83030"/>
<line x1="663.5" y1="526" x2="663.5" y2="511" stroke="#b83030"/>
<line x1="668.5" y1="526" x2="668.5" y2="511" stroke="#b83030"/>
<line x1="673.5" y1="526" x2="673.5" y2="511" stroke="#b83030"/>
<line x1="677.5" y1="526" x2="677.5" y2="511" stroke="#b83030"/>
<line x1="682.5" y1="526" x2="682.5" y2="511" stroke="#b83030"/>
<line x1="687.5" y1="526" x2="687.5" y2="511" stroke="#b83030"/>
<line x1="691.5" y1="526" x2="691.5" y2="511" stroke="#b83030"/>
<line x1="696.5" y1="526" x2="696.5" y2="508" stroke="#b83030"/>
<line x1="701.5" y1="526" x2="701.5" y2="503" stroke="#b83030"/>
<line x1="705.5" y1="526" x2="705.5" y2="500" stroke="#b83030"/>
<line x1="710.5" y1="526" x2="710.5" y2="504" stroke="#b83030"/>
<line x1="715.5" y1="526" x2="715.5" y2="503" stroke="#b83030"/>
<line x1="719.5" y1="526" x2="719.5" y2="505" stroke="#b83030"/>
<line x1="724.5" y1="526" x2="724.5" y2="509" stroke="#b83030"/>
<line x1="729.5" y1="526" x2="729.5" y2="509" stroke="#b83030"/>
<line x1="733.5" y1="526" x2="733.5" y2="507" stroke="#b83030"/>
<line x1="738.5" y1="526" x2="738.5" y2="511" stroke="#b83030"/>
<line x1="743.5" y1="526" x2="743.5" y2="517" stroke="#b83030"/>
<line x1="747.5" y1="526" x2="747.5" y2="520" stroke="#b83030"/>
<line x1="752.5" y1="526" x2="752.5" y2="523" stroke="#b83030"/>
<line x1="757.5" y1="526" x2="757.5" y2="530" stroke="#2a7a2a"/>
<line x1="761.5" y1="526" x2="761.5" y2="534" stroke="#2a7a2a"/>
<line x1="766.5" y1="526" x2="766.5" y2="535" stroke="#2a7a2a"/>
<line x1="771.5" y1="526" x2="771.5" y2="537" stroke="#2a7a2a"/>
<line x1="775.5" y1="526" x2="775.5" y2="537" stroke="#2a7a2a"/>
<line x1="780.5" y1="526" x2="780.5" y2="537" stroke="#2a7a2a"/>
<line x1="785.5" y1="526" x2="785.5" y2="537" stroke="#2a7a2a"/>
<line x1="789.5" y1="526" x2="789.5" y2="537" stroke="#2a7a2a"/>
<line x1="794.5" y1="526" x2="794.5" y2="536" stroke="#2a7a2a"/>
<line x1="799.5" y1="526" x2="799.5" y2="536" stroke="#2a7a2a"/>
<line x1="803.5" y1="526" x2="803.5" y2="536" stroke="#2a7a2a"/>
<line x1="808.5" y1="526" x2="808.5" y2="536" stroke="#2a7a2a"/>
<line x1="813.5" y1="526" x2="813.5" y2="535" stroke="#2a7a2a"/>
<line x1="817.5" y1="526" x2="817.5" y2="534" stroke="#2a7a2a"/>
<line x1="822.5" y1="526" x2="822.5" y2="533" stroke="#2a7a2a"/>
<line x1="827.5" y1="526" x2="827.5" y2="533" stroke="#2a7a2a"/>
<line x1="831.5" y1="526" x2="831.5" y2="532" stroke="#2a7a2a"/>
<line x1="836.5" y1="526" x2="836.5" y2="532" stroke="#2a7a2a"/>
<line x1="841.5" y1="526" x2="841.5" y2="532" stroke="#2a7a2a"/>
<line x1="845.5" y1="526" x2="845.5" y2="531" stroke="#2a7a2a"/>
<line x1="850.5" y1="526" x2="850.5" y2="530" stroke="#2a7a2a"/>
<line x1="855.5" y1="526" x2="855.5" y2="530" stroke="#2a7a2a"/>
<line x1="859.5" y1="526" x2="859.5" y2="529" stroke="#2a7a2a"/>
<line x1="864.5" y1="526" x2="864.5" y2="529" stroke="#2a7a2a"/>
<line x1="869.5" y1="526" x2="869.5" y2="528" stroke="#2a7a2a"/>
<line x1="873.5" y1="526" x2="873.5" y2="528" stroke="#2a7a2a"/>
<line x1="878.5" y1="526" x2="878.5" y2="528" stroke="#2a7a2a"/>
<line x1="883.5" y1="526" x2="883.5" y2="527" stroke="#2a7a2a"/>
<line x1="887.5" y1="526" x2="887.5" y2="527" stroke="#2a7a2a"/>
<line x1="892.5" y1="526" x2="892.5" y2="527" stroke="#2a7a2a"/>
</g>
<g shape-rendering="crispEdges">
<polyline points="77.0,519.2 122.0,519.2 130.3,521.3 142.0,523.7 158.7,525.5 175.3,526.7 215.0,526.0 243.0,529.0 263.3,526.7 278.3,520.0 291.7,514.2 305.0,510.8 315.0,511.3 320.0,512.5 340.0,514.5 360.0,515.5 376.7,515.5 381.7,514.2 390.0,508.3 400.0,504.7 410.0,505.3 416.7,503.0 426.7,501.3 436.7,503.3 446.7,506.3 460.0,510.5 476.7,517.5 490.0,524.2 505.0,532.5 521.7,535.8 538.3,536.7 563.3,536.7 588.3,535.5 621.7,535.5 631.7,533.0 641.7,528.3 655.0,519.2 663.3,517.5 680.0,510.8 686.7,508.3 693.3,501.7 701.7,492.5 707.5,491.7 715.0,487.5 721.7,487.0 726.7,485.0 730.8,481.3 740.0,485.3 745.0,484.7 753.3,488.7 766.7,495.8 790.0,505.0 802.2,508.6 820.6,512.9 838.9,516.6 863.3,519.0 894.0,521.5" fill="none" stroke="#000" stroke-width="1"/>
<polyline points="77.0,520.0 122.0,520.0 142.0,522.5 158.7,524.7 175.3,525.8 215.0,526.7 228.3,527.5 243.3,529.2 256.7,528.8 265.0,527.5 278.3,522.5 293.3,518.3 306.7,515.8 318.3,512.5 338.3,513.3 341.7,514.7 376.7,515.5 393.3,510.8 410.0,508.0 426.7,505.0 440.0,504.2 453.3,506.3 470.0,510.0 486.7,515.8 505.0,523.0 521.7,528.3 538.3,533.3 555.0,535.8 571.7,537.0 588.0,535.5 605.0,535.3 621.7,535.8 638.3,532.5 655.0,527.5 663.3,524.2 683.3,515.0 700.0,505.8 716.7,496.7 733.3,489.2 743.3,487.0 750.0,487.0 766.7,490.8 790.0,499.4 802.2,502.5 826.7,509.8 845.0,513.5 863.3,516.6 894.0,519.3" fill="none" stroke="#101070" stroke-width="1"/>
</g>
<polyline points="729,146.5 734,146.5 750,152" fill="none" stroke="#1e1e8a"/>
<polyline points="246,333 264,327" fill="none" stroke="#1e1e8a"/>
<polygon points="708,410.5 716,410.5 712,406.5" fill="#000"/>
</svg>
<!-- chart header -->
<div class="a" style="left:75px;top:96px;color:#000;font-size:13px;line-height:13px">极反通道</div>
<div class="a" style="left:144px;top:97px;color:#962020;letter-spacing:-0.45px">Tp=5.9546</div>
<div class="a" style="left:223px;top:97px;color:#16167a;letter-spacing:-0.45px">Up=5.4370</div>
<div class="a" style="left:302px;top:97px;color:#000;letter-spacing:-0.45px">Md=4.8448</div>
<div class="a" style="left:381px;top:97px;color:#16167a;letter-spacing:-0.45px">Dn=4.0610</div>
<div class="a" style="left:460px;top:97px;color:#962020;letter-spacing:-0.45px">Bt=3.3457</div>
<div class="a m" style="left:794px;top:97px;color:#16167a;font-size:12px;line-height:12px;letter-spacing:-0.5px">601857</div><div class="a" style="left:845px;top:96px;color:#16167a;font-size:12.5px;line-height:13px">中国石油</div>
<!-- dates -->
<div class="a dt" style="left:76px">03-05</div>
<div class="a dt" style="left:129px">03-25</div>
<div class="a dt" style="left:194px">04-15</div>
<div class="a dt" style="left:259px">05-10</div>
<div class="a dt" style="left:325px">05-28</div>
<div class="a dt" style="left:390px">06-18</div>
<div class="a dt" style="left:455px">07-08</div>
<div class="a dt" style="left:520px">07-28</div>
<div class="a dt" style="left:586px">08-17</div>
<div class="a dt" style="left:651px">09-06</div>
<div class="a dt" style="left:716px">09-28</div>
<div class="a dt" style="left:782px">10-25</div>
<div class="a dt" style="left:847px">11-12</div>
<!-- price labels -->
<div class="a" style="left:265px;top:321px;color:#2a2aa0;font-size:13px;line-height:13px">4.1200</div>
<div class="a" style="left:750px;top:152px;color:#2a2aa0;font-size:13px;line-height:13px">6.4900</div>
<!-- volume axis -->
<div class="a m" style="left:36px;top:397px;color:#333;font-size:11px;line-height:11px;letter-spacing:-0.75px">3.1777</div>
<div class="a m" style="left:31px;top:419px;color:#333;font-size:11px;line-height:11px;letter-spacing:-0.75px">4680325</div>
<div class="a m" style="left:31px;top:432px;color:#333;font-size:11px;line-height:11px;letter-spacing:-0.75px">3120217</div>
<div class="a m" style="left:31px;top:445px;color:#333;font-size:11px;line-height:11px;letter-spacing:-0.75px">1560108</div>
<div class="a" style="left:4px;top:446px;width:24px;height:16px;background:#ececec;border:1px solid #fff;border-right-color:#808080;border-bottom-color:#808080;font-size:11px;line-height:11px;text-align:center;color:#333">▽</div>
<div class="a" style="left:872px;top:446px;width:23px;height:15px;background:#ececec;border:1px solid #fff;border-right-color:#808080;border-bottom-color:#808080;font-size:11px;line-height:13px;text-align:center;color:#333">→</div>
<div class="a" style="left:1px;top:462px;width:894px;height:3px;background:#959595"></div>
<!-- macd -->
<div class="a m" style="left:8px;top:468px;color:#16167a;font-size:12px;font-weight:bold">MACD</div>
<div class="a" style="left:79px;top:467px;color:#000;letter-spacing:-0.45px">DIF=0.32</div>
<div class="a" style="left:150px;top:467px;color:#16167a;letter-spacing:-0.45px">DEA=0.22</div>
<div class="a" style="left:222px;top:467px;color:#a83cc8;letter-spacing:-0.45px">MACD=0.20</div>
<div class="a m" style="left:48px;top:481px;color:#333;font-size:10px;line-height:10px">0.36</div>
<div class="a m" style="left:48px;top:495px;color:#333;font-size:10px;line-height:10px">0.24</div>
<div class="a m" style="left:48px;top:509px;color:#333;font-size:10px;line-height:10px">0.11</div>
<div class="a m" style="left:42px;top:522px;color:#333;font-size:10px;line-height:10px">-0.01</div>
<div class="a" style="left:4px;top:524px;width:24px;height:16px;background:#ececec;border:1px solid #fff;border-right-color:#808080;border-bottom-color:#808080;font-size:11px;line-height:12px;text-align:center;color:#333">△</div>
<div class="a" style="left:1px;top:540px;width:894px;height:1px;background:#a0a0a0"></div>
<div class="a" style="left:3px;top:81px;width:1px;height:503px;background:#c4ccd4"></div>
<!-- status bar 1 -->
<div class="a" style="left:1px;top:541px;width:894px;height:22px;background:#f0f0f0;border-top:1px solid #fff;border-bottom:1px solid #a0a0a0"></div>
<div class="a" style="left:46px;top:547px;color:#2f8a3a;letter-spacing:0.6px">3546.94</div><svg class="a" style="left:96px;top:548px" width="9" height="9"><polygon points="0,0.5 8.5,0.5 4.25,8.5" fill="#1a7a2a"/></svg><div class="a" style="left:105px;top:547px;color:#2f8a3a;letter-spacing:0.6px">-44.77</div><div class="a" style="left:147px;top:547px;color:#2f8a3a;letter-spacing:0.7px">-1.25%</div><div class="a" style="left:192px;top:547px;color:#2f8a3a;letter-spacing:0.2px">4619.83</div><div class="a" style="left:237px;top:547px;color:#000">亿</div>
<div class="a" style="left:277px;top:547px;color:#2f8a3a;letter-spacing:0.6px">14135.38</div><svg class="a" style="left:335px;top:548px" width="9" height="9"><polygon points="0,0.5 8.5,0.5 4.25,8.5" fill="#1a7a2a"/></svg><div class="a" style="left:343px;top:547px;color:#2f8a3a;letter-spacing:0.6px">-232.22</div><div class="a" style="left:391px;top:547px;color:#2f8a3a;letter-spacing:0.7px">-1.62%</div><div class="a" style="left:437px;top:547px;color:#2f8a3a;letter-spacing:0.6px">5346.0</div>
<div class="a" style="left:474px;top:544px;width:270px;height:16px;background:#fff;border:1px solid #808080;border-right-color:#e0e0e0;border-bottom-color:#e0e0e0"></div>
<div class="a" style="left:491px;top:545px;width:34px;height:14px;background:#e88080"></div>
<div class="a" style="left:492px;top:546px;color:#fff;font-size:13px;line-height:13px">16:11</div>
<div class="a" style="left:530px;top:546px;color:#c02828;font-size:13px;line-height:13px">国民技术：第三季度净利4814万</div>
<div class="a" style="left:764px;top:546px;color:#000;font-size:13px;line-height:13px">收601838日线</div>
<!-- status bar 2 -->
<div class="a" style="left:1px;top:564px;width:894px;height:20px;background:#f0f0f0"></div>
<div class="a" style="left:8px;top:566px;width:2px;height:15px;border-left:1px solid #a0a0a0;border-bottom:1px solid #a0a0a0"></div>
<div class="a" style="left:15px;top:567px;width:875px;height:16px;border:1px solid #a0a0a0;border-right-color:#fff;border-bottom-color:#fff"></div>
<div class="a" style="left:17px;top:569px;color:#000;font-size:12px;letter-spacing:0.25px">601857 中国石油 时间:20210922 开:5.6300 高:6.1500 低:5.5800 收:6.1100 手:4905012 额:2884718080.00 换:0.00 涨:7.19 盘:0 标:2.4932</div>
<!-- toolbar icons -->
<svg class="a" style="left:15px;top:59px" width="16" height="14" viewBox="0 0 16 14" shape-rendering="crispEdges">
<rect x="0.5" y="0.5" width="15" height="13" fill="#fff" stroke="#000"/><rect x="1" y="1" width="14" height="2" fill="#1a1a9a"/>
<g fill="#000"><rect x="2" y="5" width="2" height="1"/><rect x="5" y="5" width="2" height="1"/><rect x="8" y="5" width="2" height="1"/><rect x="11" y="5" width="3" height="1"/>
<rect x="2" y="7" width="2" height="1"/><rect x="5" y="7" width="2" height="1"/><rect x="8" y="7" width="2" height="1"/><rect x="11" y="7" width="3" height="1"/>
<rect x="2" y="9" width="2" height="1"/><rect x="5" y="9" width="2" height="1"/><rect x="8" y="9" width="2" height="1"/><rect x="11" y="9" width="3" height="1"/>
<rect x="2" y="11" width="2" height="1"/><rect x="5" y="11" width="2" height="1"/><rect x="8" y="11" width="2" height="1"/><rect x="11" y="11" width="3" height="1"/></g></svg>
<svg class="a" style="left:68px;top:59px" width="16" height="16" viewBox="0 0 16 16" shape-rendering="crispEdges">
<rect x="0" y="0" width="16" height="16" fill="#0e2e30"/>
<rect x="1" y="1" width="6" height="6" fill="#2a8078"/><rect x="9" y="1" width="6" height="6" fill="#3ad8d8"/>
<rect x="1" y="9" width="6" height="6" fill="#3ad8d8"/><rect x="9" y="9" width="6" height="6" fill="#2a8078"/>
<g fill="#3ad0d0"><rect x="7" y="2" width="1" height="1"/><rect x="8" y="4" width="1" height="1"/><rect x="7" y="6" width="1" height="1"/><rect x="8" y="9" width="1" height="1"/><rect x="7" y="11" width="1" height="1"/><rect x="8" y="13" width="1" height="1"/>
<rect x="2" y="7" width="1" height="1"/><rect x="4" y="8" width="1" height="1"/><rect x="11" y="7" width="1" height="1"/><rect x="13" y="8" width="1" height="1"/></g></svg>
<svg class="a" style="left:121px;top:59px" width="16" height="16" viewBox="0 0 16 16">
<g stroke="#d02020" fill="#fff"><line x1="2.5" y1="8" x2="2.5" y2="15"/><rect x="1.5" y="9.5" width="2" height="3"/>
<line x1="6.5" y1="5" x2="6.5" y2="12"/><rect x="5.5" y="6.5" width="2" height="3"/>
<line x1="14.5" y1="0" x2="14.5" y2="7"/><rect x="13.5" y="1.5" width="2" height="3"/></g>
<g stroke="#108a10" fill="#fff"><line x1="10.5" y1="3" x2="10.5" y2="10"/><rect x="9.5" y="4.5" width="2" height="3"/></g></svg>
<div class="a ico" style="left:171px;border:1px solid #801020;background:#fff;color:#000;font-size:9px;letter-spacing:-0.5px">PS</div>
<div class="a ico" style="left:243px;border:1px solid #c020c0;background:#fff;color:#401020;letter-spacing:-0.5px">P9</div>
<div class="a ico" style="left:322px;border:1px solid #901020;background:#fff;color:#000;letter-spacing:-0.8px">PN</div>
<div class="a ico" style="left:394px;border:1px dotted #20a020;background:#fff;color:#602020;letter-spacing:-0.5px">TS</div>
<div class="a ico" style="left:466px;border:1px dotted #20b0c0;background:#fff;color:#602020;letter-spacing:-0.5px">T9</div>
<div class="a ico" style="left:545px;border:1px dotted #20a020;background:#fff;color:#602020;letter-spacing:-0.8px">TN</div>
<svg class="a" style="left:616px;top:59px" width="16" height="16" viewBox="0 0 16 16">
<circle cx="8" cy="8" r="6.6" fill="#fff" stroke="#5a1a1a" stroke-width="1.8"/><circle cx="8" cy="8" r="3.8" fill="#fff" stroke="#2a5a2a" stroke-width="1.2"/>
<line x1="8" y1="5" x2="8" y2="11" stroke="#a07060" stroke-width="0.8"/><line x1="5" y1="8" x2="11" y2="8" stroke="#a07060" stroke-width="0.8"/></svg>
<svg class="a" style="left:681px;top:59px" width="16" height="16" viewBox="0 0 16 16">
<circle cx="8" cy="8" r="7" fill="#f4fff4" stroke="#2a6a5a" stroke-width="1.2"/>
<text x="8" y="11.5" text-anchor="middle" font-family="Liberation Sans" font-size="8.5" fill="#2a9a3a" letter-spacing="-0.6">Big</text></svg>
<svg class="a" style="left:746px;top:59px" width="16" height="16" viewBox="0 0 16 16">
<polygon points="4,1.5 12,1.5 15.5,8 12,14.5 4,14.5 0.5,8" fill="#fff" stroke="#c070c0" stroke-width="1"/>
<polygon points="4.6,2.8 11.4,2.8 14.2,8 11.4,13.2 4.6,13.2 1.8,8" fill="none" stroke="#20205a" stroke-width="1.4"/>
<circle cx="8" cy="8" r="2.8" fill="#fff" stroke="#2a6ab0" stroke-width="1.6"/></svg>
<div class="a" style="left:813px;top:57px;font-size:19px;line-height:19px;font-weight:bold;color:#7ac07a">$</div>
<!-- status icons -->
<svg class="a" style="left:8px;top:545px" width="16" height="13" viewBox="0 0 16 13" shape-rendering="crispEdges">
<rect x="0.5" y="0.5" width="15" height="12" fill="#fff" stroke="#000"/><rect x="1" y="1" width="14" height="2" fill="#1a1a9a"/>
<g fill="#000"><rect x="2" y="4" width="2" height="1"/><rect x="5" y="4" width="2" height="1"/><rect x="8" y="4" width="2" height="1"/><rect x="11" y="4" width="3" height="1"/>
<rect x="2" y="6" width="2" height="1"/><rect x="5" y="6" width="2" height="1"/><rect x="8" y="6" width="2" height="1"/><rect x="11" y="6" width="3" height="1"/>
<rect x="2" y="8" width="2" height="1"/><rect x="5" y="8" width="2" height="1"/><rect x="8" y="8" width="2" height="1"/><rect x="11" y="8" width="3" height="1"/>
<rect x="2" y="10" width="2" height="1"/><rect x="5" y="10" width="2" height="1"/><rect x="8" y="10" width="2" height="1"/><rect x="11" y="10" width="3" height="1"/></g></svg>
<div class="a" style="left:26px;top:543px;width:16px;height:16px;border-radius:8px;background:#e01010;color:#ffd040;font-size:11px;line-height:16px;text-align:center">沪</div>
<div class="a" style="left:257px;top:543px;width:16px;height:16px;border-radius:8px;background:#e01010;color:#ffd040;font-size:11px;line-height:16px;text-align:center">深</div>
<div class="a" style="left:733px;top:546px;color:#909090;font-size:10px;line-height:10px">⇕</div>
<svg class="a" style="left:748px;top:544px" width="12" height="15" viewBox="0 0 12 15">
<path d="M3,4 A3.5,3.5 0 0 1 3,0.8 M9,4 A3.5,3.5 0 0 0 9,0.8" fill="none" stroke="#b04040" stroke-width="1"/>
<path d="M6,2 L6,6 M4.5,6 L7.5,6 L8.5,10 L3.5,10 Z M2.5,10 L9.5,10 L10.5,13 L1.5,13 Z" fill="#fff" stroke="#20206a" stroke-width="1.2"/>
<line x1="0" y1="14" x2="12" y2="14" stroke="#20206a" stroke-width="1.5"/></svg>

</body></html>
